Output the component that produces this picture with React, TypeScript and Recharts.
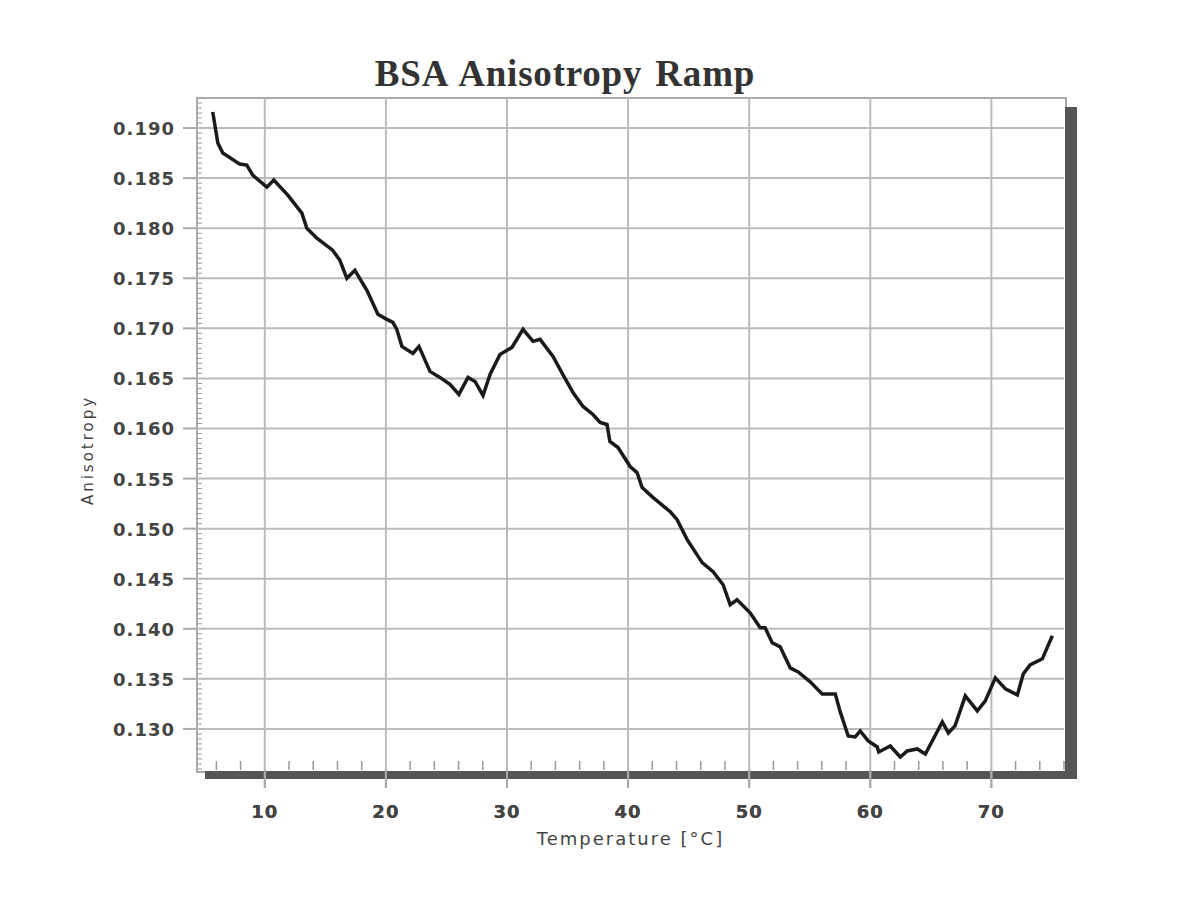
import React from 'react';
import { LineChart, Line, XAxis, YAxis, ReferenceLine } from 'recharts';

const TEMPERATURE = [
  5.7, 6.12, 6.53, 7.93, 8.51, 9.0, 10.17, 10.74, 11.9, 13.06, 13.47, 14.3, 15.6, 16.2,
  16.78, 17.44, 18.43, 19.34, 20.08, 20.58, 20.9, 21.32, 22.23, 22.73, 23.64, 24.46,
  25.29, 26.03, 26.78, 27.36, 28.02, 28.6, 29.42, 30.41, 31.32, 32.15, 32.73, 33.8,
  34.7, 35.45, 36.28, 37.1, 37.69, 38.26, 38.5, 39.17, 40.17, 40.74, 41.16, 42.07,
  43.47, 44.05, 44.88, 46.12, 47.02, 47.85, 48.43, 49.0, 50.08, 50.91, 51.32, 51.9,
  52.56, 53.39, 54.05, 55.04, 56.03, 57.11, 57.52, 58.18, 58.76, 59.17, 59.83, 60.58,
  60.7, 61.65, 62.48, 63.06, 63.88, 64.55, 65.95, 66.45, 67.0, 67.85, 68.84, 69.5,
  70.33, 71.16, 72.15, 72.64, 73.2, 74.21, 75.04,
];

const ANISOTROPY = [
  0.1916, 0.1885, 0.1875, 0.1864, 0.1863, 0.1853, 0.1841, 0.1848, 0.1833, 0.1815,
  0.18, 0.179, 0.1778, 0.1768, 0.175, 0.1758, 0.1738, 0.1714, 0.1709, 0.1706, 0.1699,
  0.1682, 0.1675, 0.1682, 0.1657, 0.1651, 0.1644, 0.1634, 0.1651, 0.1647, 0.1633,
  0.1654, 0.1674, 0.1681, 0.1699, 0.1687, 0.1689, 0.1672, 0.1652, 0.1636, 0.1622,
  0.1614, 0.1606, 0.1604, 0.1587, 0.1581, 0.1562, 0.1556, 0.1541, 0.1531, 0.1517,
  0.1509, 0.1489, 0.1466, 0.1457, 0.1444, 0.1424, 0.1429, 0.1416, 0.1401, 0.1401,
  0.1386, 0.1382, 0.1361, 0.1357, 0.1347, 0.1335, 0.1335, 0.1317, 0.1293, 0.1292,
  0.1298, 0.1288, 0.1282, 0.1277, 0.1283, 0.1272, 0.1278, 0.128, 0.1275, 0.1307,
  0.1296, 0.1303, 0.1333, 0.1318, 0.1328, 0.1351, 0.134, 0.1334, 0.1355, 0.1364,
  0.137, 0.1393,
];

const X_TICKS = [10, 20, 30, 40, 50, 60, 70];
const Y_TICKS = [0.13, 0.135, 0.14, 0.145, 0.15, 0.155, 0.16, 0.165, 0.17, 0.175, 0.18, 0.185, 0.19];

const X_DOMAIN = [4.4, 76];
const Y_DOMAIN = [0.1259, 0.193];

// minor tick marks: every 2 °C and every 0.0005
const X_MINOR = Array.from({ length: 36 }, (_, i) => 6 + i * 2);
const Y_MINOR = Array.from({ length: 134 }, (_, i) => Math.round((0.1260 + i * 0.0005) * 10000) / 10000);

const data = TEMPERATURE.map((t, i) => ({ t, a: ANISOTROPY[i] }));

const LABEL_FONT = '"DejaVu Sans", Verdana, sans-serif';
const TICK_GRAY = '#aaa';

const XTick = (props: any) => {
  const { x, y, payload } = props;
  const v = payload.value;
  if (v % 10 === 0) {
    return (
      <g>
        <line x1={x} x2={x} y1={y} y2={y + 18} stroke={TICK_GRAY} strokeWidth={2} />
        <text x={x} y={y + 48} textAnchor="middle" fontSize={18} fontWeight="bold"
          fontFamily={LABEL_FONT} fill="#444" letterSpacing={1}>
          {v}
        </text>
      </g>
    );
  }
  return <line x1={x} x2={x} y1={y} y2={y - 9} stroke="#999" strokeWidth={1.5} />;
};

const YTick = (props: any) => {
  const { x, y, payload } = props;
  const v = payload.value;
  if (Math.round(v * 10000) % 50 === 0) {
    return (
      <g>
        <line x1={x - 14} x2={x} y1={y} y2={y} stroke={TICK_GRAY} strokeWidth={2} />
        <text x={x - 22} y={y + 7} textAnchor="end" fontSize={18} fontWeight="bold"
          fontFamily={LABEL_FONT} fill="#444" letterSpacing={1}>
          {v.toFixed(3)}
        </text>
      </g>
    );
  }
  return <line x1={x} x2={x + 5} y1={y} y2={y} stroke="#999" strokeWidth={1} />;
};

export default function App() {
  return (
    <div style={{ position: 'absolute', left: 0, top: 0, width: 1200, height: 901, background: '#fff' }}>
      {/* plot frame and drop shadow */}
      <div style={{ position: 'absolute', left: 196, top: 97, width: 867, height: 672, border: '2px solid #aaa' }} />
      <div style={{ position: 'absolute', left: 205, top: 771, width: 872, height: 8, background: '#555' }} />
      <div style={{ position: 'absolute', left: 1065, top: 107, width: 12, height: 672, background: '#555' }} />
      <div
        style={{
          position: 'absolute',
          left: 565,
          top: 52,
          transform: 'translateX(-50%)',
          whiteSpace: 'nowrap',
          fontFamily: '"Liberation Serif", "Times New Roman", serif',
          fontWeight: 'bold',
          fontSize: 37,
          letterSpacing: 0.8,
          wordSpacing: 3,
          color: '#333',
        }}
      >
        BSA Anisotropy Ramp
      </div>
      <div
        style={{
          position: 'absolute',
          left: 88,
          top: 450,
          transform: 'translate(-50%, -50%) rotate(-90deg)',
          whiteSpace: 'nowrap',
          fontFamily: LABEL_FONT,
          fontSize: 15,
          letterSpacing: 3,
          color: '#444',
        }}
      >
        Anisotropy
      </div>
      <div style={{ position: 'absolute', left: 0, top: 0 }}>
        <LineChart width={1200} height={901} data={data} margin={{ top: 98, right: 136, bottom: 91, left: 117 }}>
          {X_TICKS.map((v) => (
            <ReferenceLine key={`vx-${v}`} x={v} stroke="#bbb" strokeWidth={2} />
          ))}
          {Y_TICKS.map((v) => (
            <ReferenceLine key={`hy-${v}`} y={v} stroke="#bbb" strokeWidth={2} />
          ))}
          <XAxis
            dataKey="t"
            type="number"
            domain={X_DOMAIN}
            ticks={[...X_MINOR, ...X_TICKS].sort((a, b) => a - b)}
            interval={0}
            tick={<XTick />}
            tickLine={false}
            tickSize={0}
            tickMargin={0}
            axisLine={false}
            height={40}
            allowDataOverflow
            label={{
              value: 'Temperature [°C]',
              position: 'insideBottom',
              offset: -35,
              style: { fontSize: 18, fontFamily: LABEL_FONT, fill: '#444', letterSpacing: 2 },
            }}
          />
          <YAxis
            type="number"
            domain={Y_DOMAIN}
            ticks={Y_MINOR}
            interval={0}
            tick={<YTick />}
            tickLine={false}
            tickSize={0}
            tickMargin={0}
            axisLine={false}
            width={80}
            allowDataOverflow
          />
          <Line
            type="linear"
            dataKey="a"
            stroke="#1a1a1a"
            strokeWidth={3.5}
            dot={false}
            isAnimationActive={false}
          />
        </LineChart>
      </div>
    </div>
  );
}
